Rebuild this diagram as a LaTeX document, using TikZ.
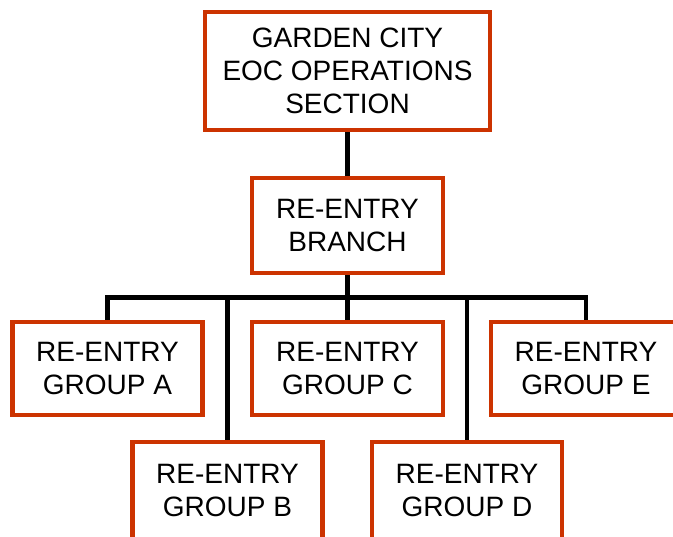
\documentclass[tikz,border=0pt]{standalone}
\usepackage{fontspec}
\setmainfont{Liberation Sans}
\definecolor{boxred}{RGB}{204,51,0}
\begin{document}
\begin{tikzpicture}[x=1pt,y=-1pt,
  orgbox/.style={draw=boxred, line width=4.5pt, fill=white, inner sep=0pt,
    minimum width=190pt, minimum height=93pt, align=center,
    font=\fontsize{28}{33}\selectfont},
  link/.style={draw=black, line width=4.5pt}]
\clip (0,0) rectangle (673,537);
\fill[white] (0,0) rectangle (673,537);
\node[orgbox, minimum width=285pt, minimum height=118pt] (top) at (347.5,71) {GARDEN CITY\\EOC OPERATIONS\\SECTION};
\node[orgbox, minimum width=191pt, minimum height=95pt] (branch) at (347.5,225.5) {RE-ENTRY\\BRANCH};
\node[orgbox] (ga) at (107.5,368.5) {RE-ENTRY\\GROUP A};
\node[orgbox, minimum width=191pt] (gc) at (347.5,368.5) {RE-ENTRY\\GROUP C};
\node[orgbox] (ge) at (586,368.5) {RE-ENTRY\\GROUP E};
\node[orgbox, minimum height=98pt] (gb) at (227.5,491) {RE-ENTRY\\GROUP B};
\node[orgbox, minimum height=98pt] (gd) at (467,491) {RE-ENTRY\\GROUP D};
\coordinate (bus) at (347.5,297.5);
\draw[link] (top.south) -- (branch.north);
\draw[link] (branch.south) -- (bus);
\draw[link, line cap=rect] (bus -| ga.north) -- (bus -| ge.north);
\draw[link] (bus -| ga.north) -- (ga.north);
\draw[link] (bus -| gb.north) -- (gb.north);
\draw[link] (bus -| gc.north) -- (gc.north);
\draw[link] (bus -| gd.north) -- (gd.north);
\draw[link] (bus -| ge.north) -- (ge.north);
\end{tikzpicture}
\end{document}
